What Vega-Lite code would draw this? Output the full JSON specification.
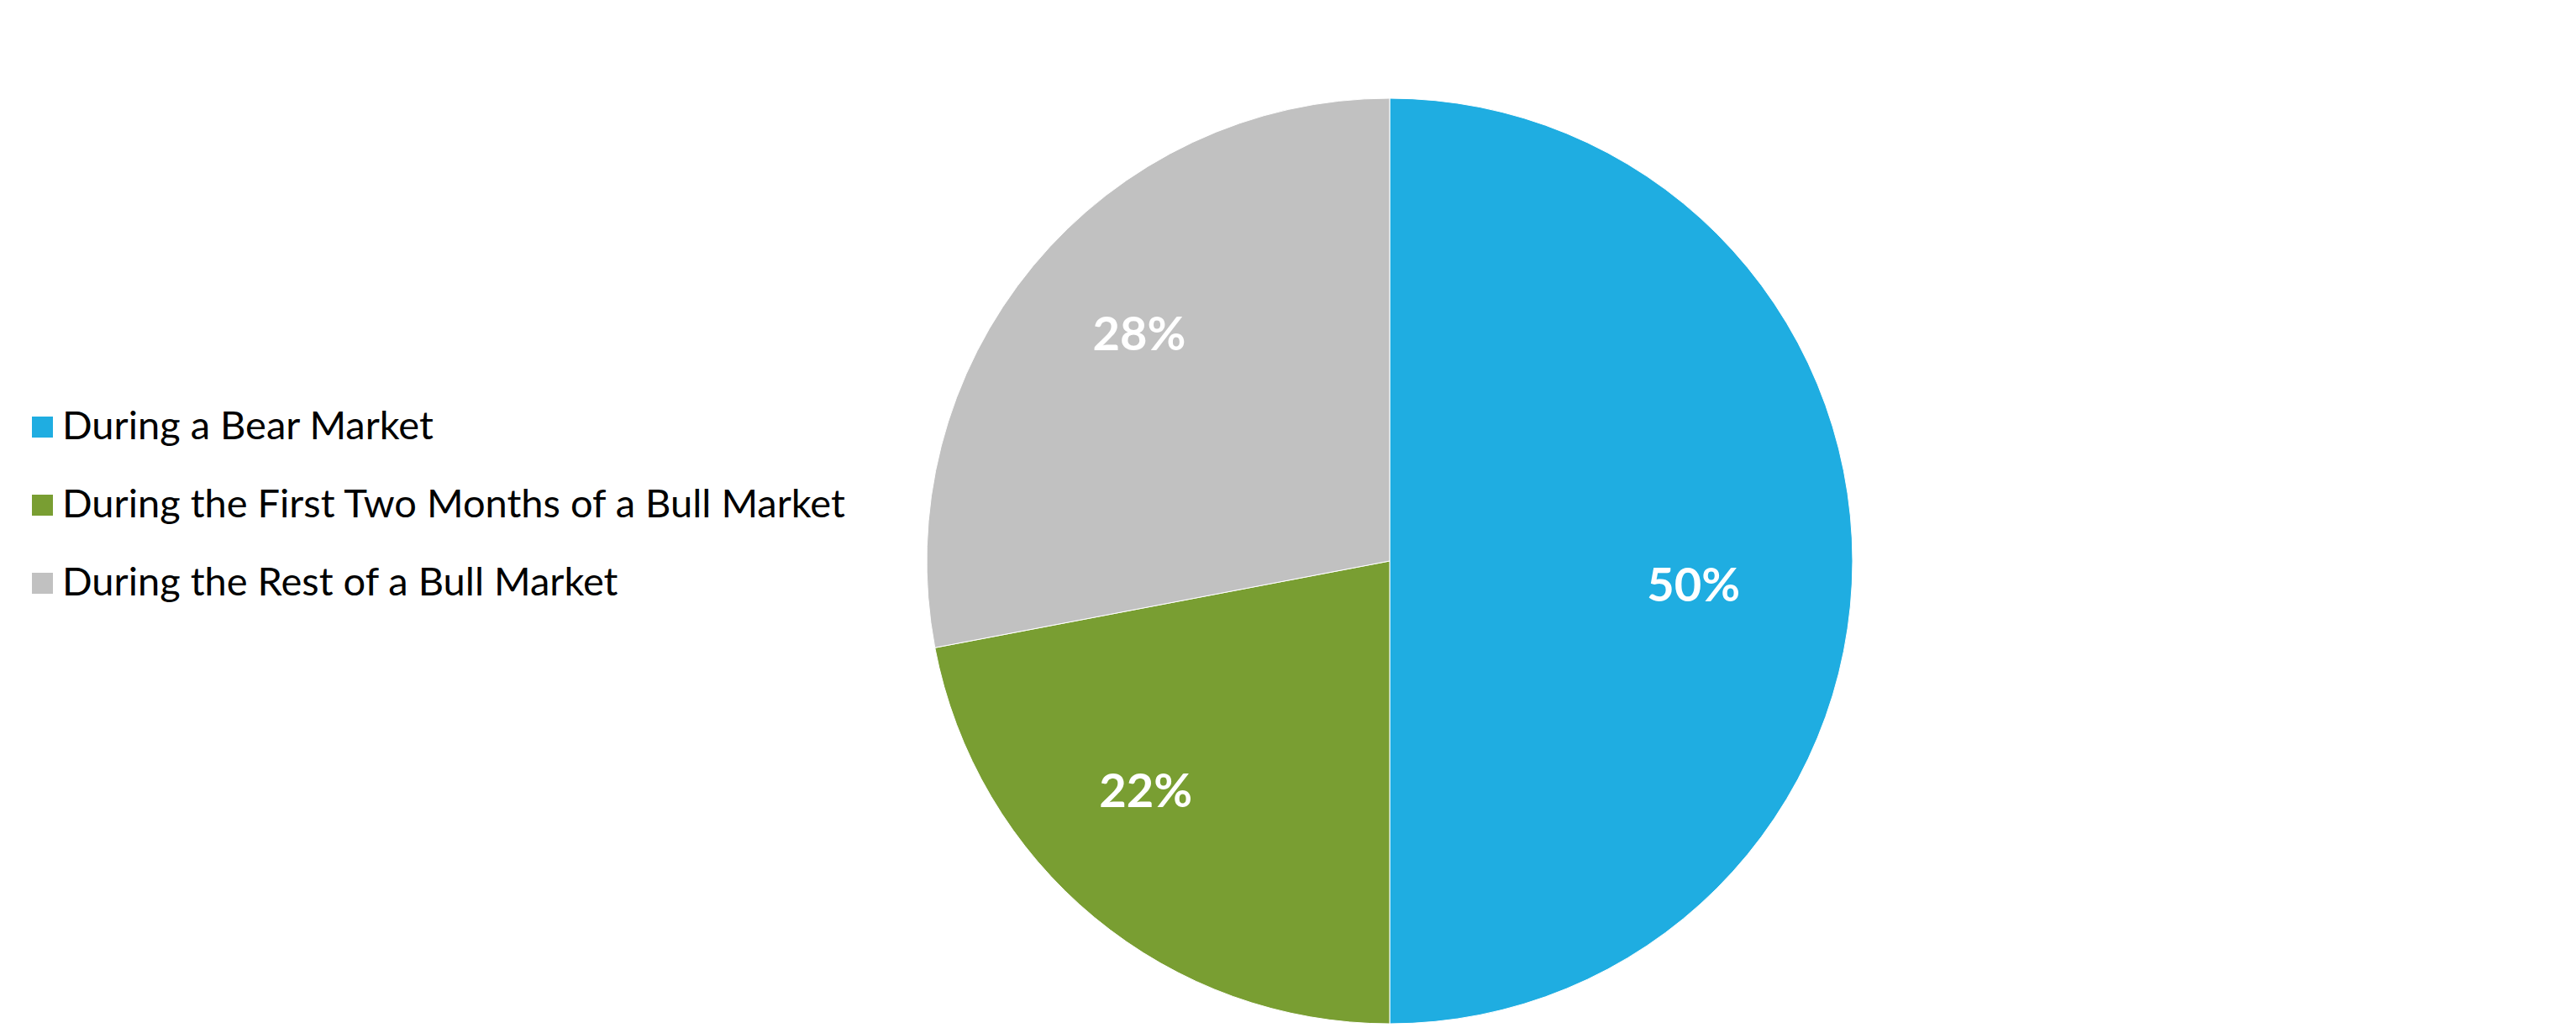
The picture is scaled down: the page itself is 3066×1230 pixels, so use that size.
{
  "$schema": "https://vega.github.io/schema/vega-lite/v6.json",
  "width": 1102,
  "height": 1102,
  "autosize": {"type": "none"},
  "padding": {"left": 1103, "top": 117, "right": 861, "bottom": 11},
  "background": "white",
  "data": {
    "values": [
      {"category": "During a Bear Market", "share": 50, "order": 1, "label": "50%"},
      {"category": "During the First Two Months of a Bull Market", "share": 22, "order": 2, "label": "22%"},
      {"category": "During the Rest of a Bull Market", "share": 28, "order": 3, "label": "28%"}
    ]
  },
  "encoding": {
    "theta": {"field": "share", "type": "quantitative", "stack": true},
    "order": {"field": "order", "type": "quantitative"}
  },
  "layer": [
    {
      "mark": {"type": "arc", "outerRadius": 551, "stroke": "white", "strokeWidth": 1},
      "encoding": {
        "color": {
          "field": "category",
          "type": "nominal",
          "sort": null,
          "scale": {
            "domain": ["During a Bear Market", "During the First Two Months of a Bull Market", "During the Rest of a Bull Market"],
            "range": ["#1fade1", "#799e32", "#c1c1c1"]
          },
          "legend": {
            "title": null,
            "orient": "none",
            "legendX": -1076,
            "legendY": 368,
            "symbolType": "square",
            "symbolSize": 625,
            "symbolStrokeWidth": 0,
            "labelFont": "Lato",
            "labelFontSize": 47,
            "labelColor": "#000000",
            "labelOffset": 0,
            "rowPadding": 45,
            "labelLimit": 2000
          }
        }
      }
    },
    {
      "mark": {"type": "text", "radius": 385, "thetaOffset": 0.08, "dx": -22, "dy": 0, "fontSize": 56, "fontWeight": "bold", "font": "Lato", "color": "white"},
      "encoding": {"text": {"field": "label", "type": "nominal"}}
    }
  ],
  "config": {"view": {"stroke": null}}
}
